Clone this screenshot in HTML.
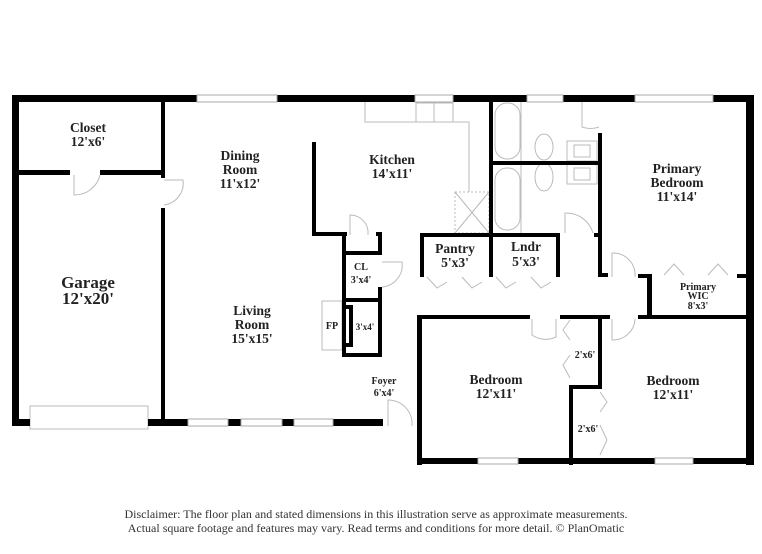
<!DOCTYPE html>
<html><head><meta charset="utf-8"><style>
html,body{margin:0;padding:0;background:#fff;}
svg{display:block;}
text{font-family:"Liberation Serif",serif;font-weight:bold;fill:#222;text-anchor:middle;}
.d{font-weight:normal;font-size:12px;fill:#333;}
</style></head><body>
<svg width="762" height="554" viewBox="0 0 762 554" xmlns="http://www.w3.org/2000/svg">
<rect width="762" height="554" fill="#fff"/>
<g fill="none" stroke="#bbb" stroke-width="1">
<polyline points="365,102 365,122 469,122 469,192"/>
<rect x="455" y="192" width="34" height="41" stroke-dasharray="2,2"/>
<line x1="455" y1="192" x2="489" y2="233"/><line x1="489" y1="192" x2="455" y2="233"/>
<rect x="416" y="103" width="37" height="19"/>
<line x1="434" y1="103" x2="434" y2="122"/>
<rect x="322" y="301" width="20" height="49"/>
<rect x="495" y="103" width="25" height="56" rx="12"/>
<rect x="495" y="168" width="25" height="62" rx="12"/>
<line x1="521" y1="102" x2="521" y2="161"/><line x1="521" y1="164" x2="521" y2="233"/>
<ellipse cx="544" cy="147" rx="9" ry="13"/><ellipse cx="544" cy="177" rx="9" ry="14"/>
<rect x="567" y="141" width="30" height="20"/><rect x="567" y="164" width="30" height="20"/>
<rect x="574" y="145" width="16" height="12"/><rect x="574" y="168" width="16" height="12"/>
<rect x="30" y="406" width="118" height="23"/>
<path d="M74,175 L74,195 A26,26 0 0 0 100,175"/>
<path d="M164,180 L183,180 A22,22 0 0 1 164,205"/>
<path d="M350,235 L350,215 A18,18 0 0 1 368,235"/>
<path d="M382,262 L402,262 A22,22 0 0 1 382,287"/>
<path d="M565,233 L565,213 A28,28 0 0 1 593,233"/>
<path d="M582,102 L582,127 A25,25 0 0 0 599,127"/>
<path d="M612,277 L612,253 A22,22 0 0 1 635,277"/>
<path d="M612,319 L612,340 A22,22 0 0 0 635,319"/>
<path d="M532,319 L532,335 A24,24 0 0 0 556,337 L556,319"/>
<path d="M388,426 L388,400 A24,24 0 0 1 412,426"/>
<polyline points="427,277 437,288 447,282"/><polyline points="462,277 472,288 482,282"/>
<polyline points="496,277 506,288 516,282"/><polyline points="531,277 541,288 551,282"/>
<polyline points="664,275 674,264 684,275"/><polyline points="708,275 718,264 728,275"/>
<polyline points="570,320 563,330 570,340"/><polyline points="570,355 563,365 570,378"/>
<polyline points="600,392 607,402 600,412"/><polyline points="600,425 607,440 600,455"/>
</g>
<g fill="#000">
<rect x="12" y="95" width="185" height="7"/><rect x="277" y="95" width="138" height="7"/>
<rect x="453" y="95" width="74" height="7"/><rect x="563" y="95" width="72" height="7"/>
<rect x="713" y="95" width="41" height="7"/>
<rect x="12" y="95" width="7" height="331"/>
<rect x="12" y="419" width="18" height="7"/><rect x="148" y="419" width="40" height="7"/>
<rect x="228" y="419" width="13" height="7"/><rect x="282" y="419" width="12" height="7"/>
<rect x="333" y="419" width="50" height="7"/>
<rect x="746" y="95" width="8" height="370"/>
<rect x="417" y="315" width="5" height="150"/>
<rect x="417" y="458" width="61" height="6"/><rect x="518" y="458" width="137" height="6"/><rect x="693" y="458" width="61" height="6"/>
<rect x="19" y="170" width="51" height="5"/><rect x="100" y="170" width="64" height="5"/>
<rect x="161" y="102" width="4" height="76"/><rect x="161" y="208" width="4" height="215"/>
<rect x="312" y="142" width="4" height="93"/><rect x="312" y="232" width="35" height="4"/>
<rect x="376" y="232" width="6" height="4"/>
<rect x="342" y="232" width="4" height="125"/>
<rect x="342" y="251" width="40" height="4"/><rect x="378" y="232" width="4" height="23"/>
<rect x="378" y="287" width="4" height="70"/>
<rect x="342" y="298" width="40" height="4"/><rect x="342" y="353" width="40" height="4"/>
<rect x="342" y="305" width="11" height="4"/><rect x="349" y="305" width="4" height="42"/><rect x="342" y="343" width="11" height="4"/>
<rect x="420" y="233" width="140" height="4"/>
<rect x="420" y="233" width="4" height="44"/><rect x="489" y="102" width="4" height="175"/>
<rect x="556" y="233" width="4" height="44"/>
<rect x="489" y="161" width="113" height="4"/>
<rect x="598" y="133" width="4" height="144"/><rect x="598" y="273" width="10" height="4"/>
<rect x="594" y="233" width="8" height="4"/>
<rect x="638" y="274" width="14" height="4"/><rect x="737" y="274" width="17" height="4"/>
<rect x="647" y="274" width="5" height="44"/>
<rect x="638" y="315" width="116" height="4"/>
<rect x="417" y="315" width="113" height="4"/><rect x="560" y="315" width="50" height="4"/>
<rect x="598" y="315" width="4" height="74"/>
<rect x="569" y="385" width="33" height="4"/><rect x="569" y="385" width="4" height="80"/>
</g>
<g fill="#fff" stroke="#aaa" stroke-width="1">
<rect x="197" y="95" width="80" height="7"/><rect x="415" y="95" width="38" height="7"/>
<rect x="527" y="95" width="36" height="7"/><rect x="635" y="95" width="78" height="7"/>
<rect x="188" y="419" width="40" height="7"/><rect x="241" y="419" width="41" height="7"/><rect x="294" y="419" width="39" height="7"/>
<rect x="478" y="458" width="40" height="6"/><rect x="655" y="458" width="38" height="6"/>
</g>
<g font-size="13.5">
<text x="88" y="132">Closet</text><text x="88" y="146">12'x6'</text>
<text x="240" y="160">Dining</text><text x="240" y="174">Room</text><text x="240" y="188">11'x12'</text>
<text x="392" y="164">Kitchen</text><text x="392" y="178">14'x11'</text>
<text x="677" y="173">Primary</text><text x="677" y="187">Bedroom</text><text x="677" y="201">11'x14'</text>
<text x="455" y="253">Pantry</text><text x="455" y="267">5'x3'</text>
<text x="526" y="251">Lndr</text><text x="526" y="266">5'x3'</text>
<text x="252" y="315">Living</text><text x="252" y="329">Room</text><text x="252" y="343">15'x15'</text>
<text x="496" y="384">Bedroom</text><text x="496" y="398">12'x11'</text>
<text x="673" y="385">Bedroom</text><text x="673" y="399">12'x11'</text>
</g>
<g font-size="17"><text x="88" y="288">Garage</text><text x="88" y="304">12'x20'</text></g>
<g font-size="10">
<text x="361" y="270">CL</text><text x="361" y="283">3'x4'</text>
<text x="332" y="329">FP</text><text x="365" y="330" font-size="9">3'x4'</text>
<text x="384" y="384">Foyer</text><text x="384" y="396">6'x4'</text>
<text x="698" y="290">Primary</text><text x="698" y="299">WIC</text><text x="698" y="309">8'x3'</text>
<text x="585" y="358">2'x6'</text><text x="588" y="432">2'x6'</text>
</g>
<text class="d" x="376" y="518">Disclaimer: The floor plan and stated dimensions in this illustration serve as approximate measurements.</text>
<text class="d" x="376" y="532">Actual square footage and features may vary. Read terms and conditions for more detail. © PlanOmatic</text>
</svg>
</body></html>
